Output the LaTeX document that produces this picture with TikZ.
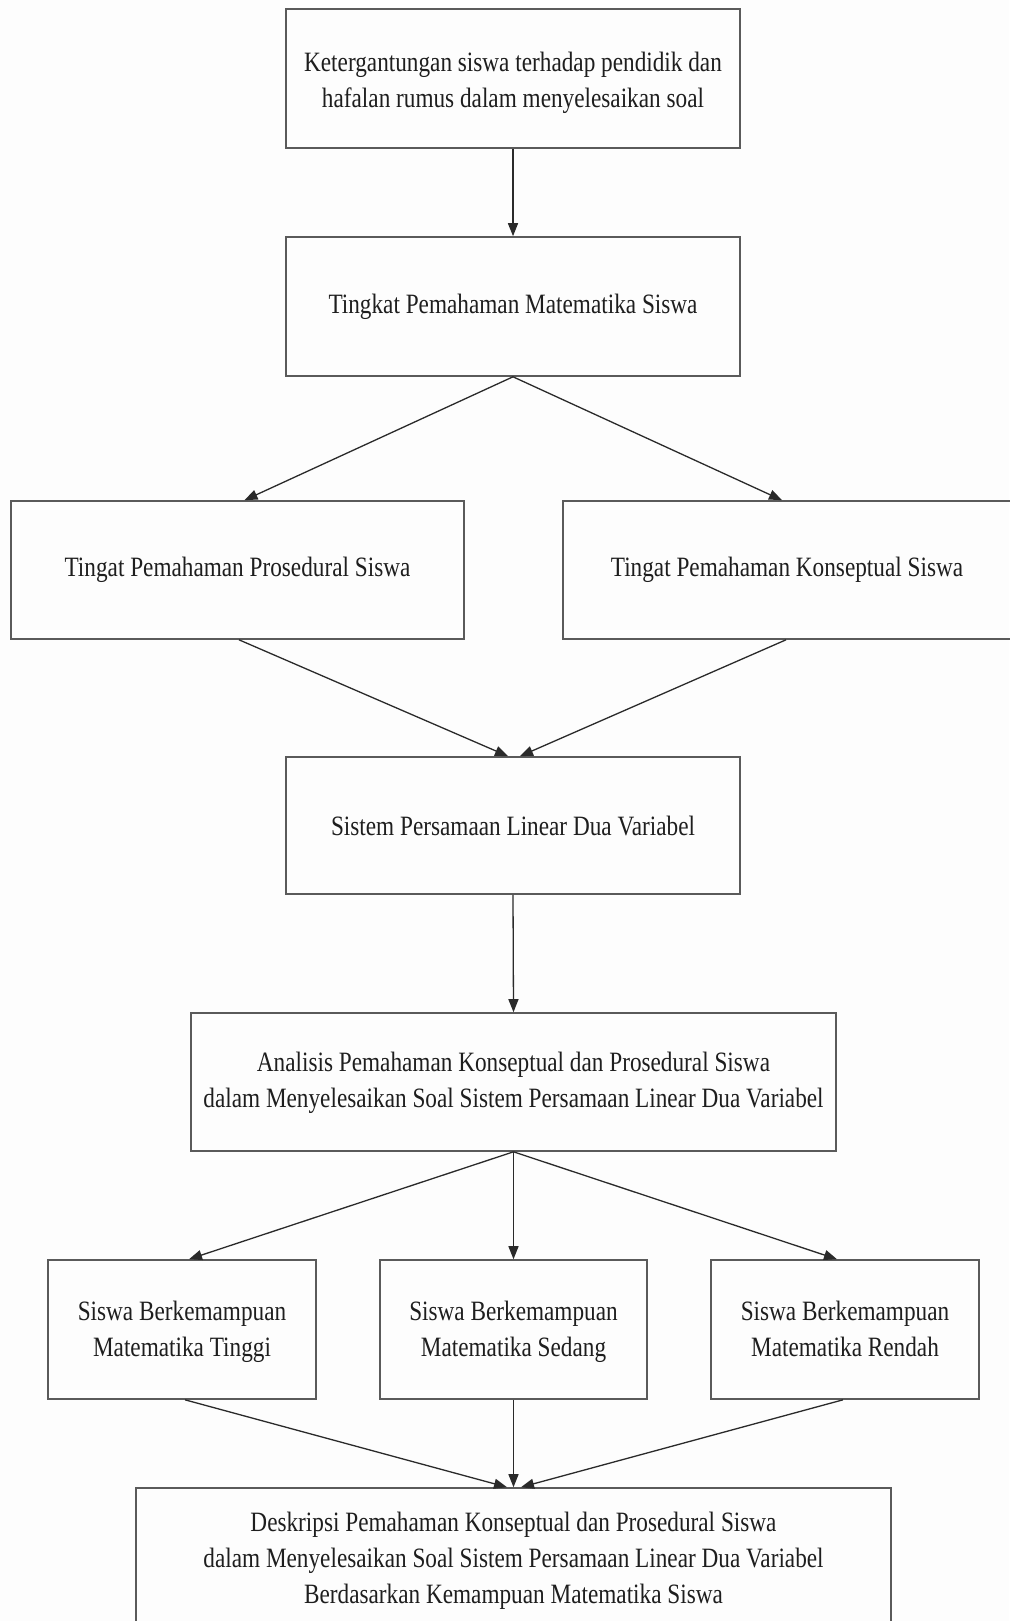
\documentclass[tikz,border=0pt]{standalone}
\usepackage{fontspec}
\setmainfont{Liberation Serif}[FakeStretch=0.83]
\usetikzlibrary{arrows.meta}
\definecolor{boxline}{HTML}{5A5A5A}
\definecolor{arrline}{HTML}{2A2A2A}
\definecolor{txt}{HTML}{1E1E1E}
\definecolor{bg}{HTML}{FDFDFD}
\newcommand\toplift[1]{\rule{0pt}{#1pt}}
\begin{document}
\begin{tikzpicture}[x=1pt,y=-1pt,
  box/.style={draw=boxline,line width=1.6pt,rectangle,inner sep=0pt,align=center,
    text=txt,font=\fontsize{28}{36}\selectfont},
  arr/.style={draw=arrline,line width=1.3pt,-{Triangle[length=13pt,width=10pt]}}]
\fill[bg] (0,0) rectangle (1009,1621);
\useasboundingbox (0,0) rectangle (1009,1621);
\node[box,minimum width=454pt,minimum height=139pt] (b1) at (513,78.5)
  {\toplift{33}Ketergantungan siswa terhadap pendidik dan\\hafalan rumus dalam menyelesaikan soal\strut};
\node[box,minimum width=454pt,minimum height=139pt] (b2) at (513,306.5)
  {Tingkat Pemahaman Matematika Siswa};
\node[box,minimum width=453pt,minimum height=138pt] (b3) at (237.5,570)
  {Tingat Pemahaman Prosedural Siswa};
\node[box,minimum width=448pt,minimum height=138pt] (b4) at (787,570)
  {Tingat Pemahaman Konseptual Siswa};
\node[box,minimum width=454pt,minimum height=137pt] (b5) at (513,825.5)
  {Sistem Persamaan Linear Dua Variabel};
\node[box,minimum width=645pt,minimum height=138pt] (b6) at (513.5,1082)
  {\toplift{25}Analisis Pemahaman Konseptual dan Prosedural Siswa\\dalam Menyelesaikan Soal Sistem Persamaan Linear Dua Variabel\strut};
\node[box,minimum width=268pt,minimum height=139pt] (b7) at (182,1329.5)
  {\toplift{29}Siswa Berkemampuan\\Matematika Tinggi\strut};
\node[box,minimum width=267pt,minimum height=139pt] (b8) at (513.5,1329.5)
  {\toplift{29}Siswa Berkemampuan\\Matematika Sedang\strut};
\node[box,minimum width=268pt,minimum height=139pt] (b9) at (845,1329.5)
  {\toplift{29}Siswa Berkemampuan\\Matematika Rendah\strut};
\node[box,minimum width=755pt,minimum height=160pt] (b10) at (513.5,1568) {};
\node[align=center,text=txt,font=\fontsize{28}{36}\selectfont,inner sep=0pt] (t10) at (513.5,1563)
  {Deskripsi Pemahaman Konseptual dan Prosedural Siswa\\dalam Menyelesaikan Soal Sistem Persamaan Linear Dua Variabel\\Berdasarkan Kemampuan Matematika Siswa\strut};
\draw[arr] (b1.south) -- (b2.north);
\draw[arr] (b2.south) -- ([xshift=7pt]b3.north);
\draw[arr] (b2.south) -- ([xshift=-5pt]b4.north);
\draw[arr] ([xshift=1.5pt]b3.south) -- ([xshift=-5pt]b5.north);
\draw[arr] ([xshift=-1pt]b4.south) -- ([xshift=7pt]b5.north);
\draw[arr] (b5.south) -- (b6.north);
\draw[arr] (b6.south) -- ([xshift=7pt]b7.north);
\draw[arr] (b6.south) -- (b8.north);
\draw[arr] (b6.south) -- ([xshift=-8pt]b9.north);
\draw[arr] ([xshift=3pt]b7.south) -- ([xshift=-6.5pt]b10.north);
\draw[arr] (b8.south) -- (b10.north);
\draw[arr] ([xshift=-2pt]b9.south) -- ([xshift=7.5pt]b10.north);
\end{tikzpicture}
\end{document}
